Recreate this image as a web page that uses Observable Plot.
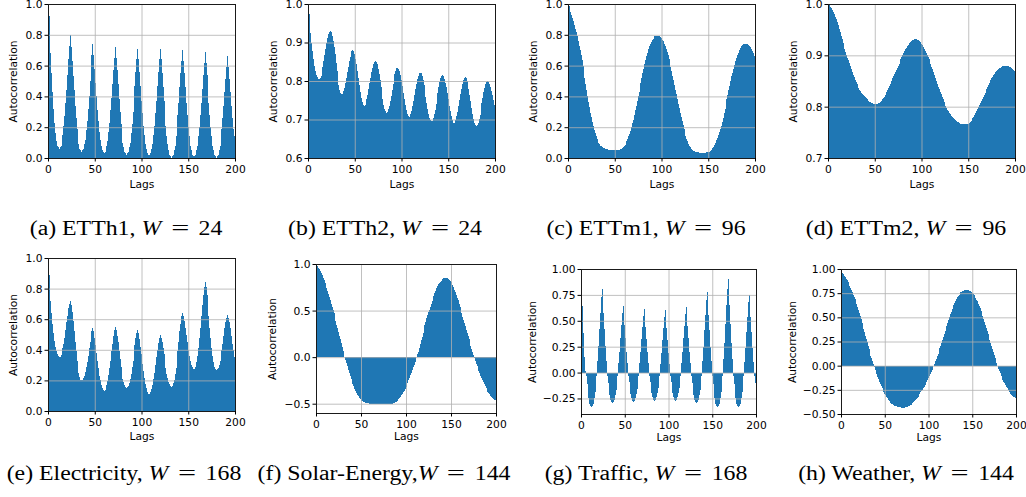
<!DOCTYPE html>
<html><head><meta charset="utf-8">
<script src="https://cdn.jsdelivr.net/npm/d3@7"></script>
<script src="https://cdn.jsdelivr.net/npm/@observablehq/plot@0.6"></script>
<style>
html,body{margin:0;padding:0;background:#fff;}
#fig{position:relative;width:1026px;height:497px;overflow:hidden;background:#fff;}
#fig svg{position:absolute;}
.cap{position:absolute;font-family:"Liberation Serif","Times New Roman",serif;font-size:20px;line-height:20px;white-space:nowrap;color:#000;transform-origin:50% 0;}
.cap i{font-style:italic;}
.cap .eq{display:inline-block;margin:0 0.5em;transform:scaleX(1.35);}
</style></head><body><div id="fig"></div>
<script>
const lags = d3.range(0, 201);

const etth1 = [
1.00,0.92,0.81,0.68,0.55,0.43,0.32,0.23,0.16,0.11,0.08,0.07,0.06,
0.07,0.08,0.11,0.15,0.21,0.27,0.36,0.44,0.54,0.64,0.73,0.80,
0.72,0.63,0.53,0.44,0.34,0.26,0.19,0.13,0.09,0.06,0.05,0.04,
0.05,0.06,0.09,0.12,0.18,0.24,0.32,0.40,0.50,0.59,0.67,0.74,
0.67,0.58,0.49,0.40,0.31,0.24,0.17,0.12,0.08,0.05,0.04,0.03,
0.04,0.05,0.08,0.11,0.17,0.23,0.31,0.39,0.48,0.57,0.65,0.72,
0.65,0.57,0.48,0.38,0.30,0.22,0.16,0.10,0.07,0.04,0.03,0.02,
0.03,0.04,0.07,0.10,0.16,0.22,0.30,0.38,0.47,0.56,0.64,0.71,
0.64,0.56,0.47,0.37,0.29,0.21,0.15,0.09,0.06,0.03,0.02,0.01,
0.02,0.03,0.06,0.09,0.15,0.21,0.29,0.37,0.47,0.56,0.64,0.71,
0.64,0.55,0.46,0.37,0.28,0.21,0.14,0.09,0.05,0.02,0.01,0.00,
0.01,0.02,0.05,0.08,0.14,0.20,0.28,0.36,0.46,0.55,0.63,0.70,
0.63,0.55,0.46,0.36,0.28,0.20,0.14,0.08,0.05,0.02,0.01,0.00,
0.01,0.02,0.05,0.08,0.14,0.20,0.28,0.36,0.45,0.54,0.62,0.69,
0.62,0.54,0.45,0.36,0.28,0.20,0.14,0.08,0.05,0.02,0.01,0.00,
0.01,0.02,0.05,0.08,0.13,0.19,0.26,0.34,0.43,0.51,0.59,0.66,
0.59,0.51,0.43,0.34,0.26,0.19,0.14,0.11];

const etth2 = [
1.000,0.975,0.950,0.925,0.900,0.877,0.856,0.840,0.826,0.816,0.810,0.806,0.805,
0.807,0.814,0.824,0.836,0.851,0.868,0.884,0.899,0.911,0.921,0.927,0.930,
0.927,0.918,0.905,0.889,0.869,0.848,0.826,0.806,0.790,0.777,0.768,0.765,
0.767,0.773,0.782,0.794,0.808,0.823,0.837,0.851,0.863,0.872,0.878,0.880,
0.877,0.870,0.858,0.844,0.826,0.808,0.789,0.771,0.757,0.745,0.738,0.735,
0.737,0.743,0.753,0.764,0.779,0.794,0.809,0.823,0.834,0.844,0.850,0.852,
0.849,0.843,0.832,0.818,0.802,0.785,0.768,0.752,0.738,0.727,0.721,0.718,
0.720,0.726,0.736,0.747,0.762,0.777,0.792,0.806,0.817,0.827,0.833,0.835,
0.832,0.826,0.815,0.803,0.787,0.770,0.753,0.738,0.725,0.714,0.708,0.705,
0.707,0.713,0.723,0.734,0.749,0.764,0.779,0.793,0.804,0.814,0.820,0.822,
0.820,0.813,0.803,0.790,0.775,0.759,0.742,0.727,0.714,0.704,0.698,0.695,
0.697,0.703,0.713,0.725,0.740,0.755,0.770,0.785,0.797,0.807,0.813,0.815,
0.813,0.806,0.796,0.784,0.769,0.753,0.736,0.721,0.709,0.699,0.692,0.690,
0.692,0.698,0.708,0.720,0.735,0.750,0.765,0.780,0.792,0.802,0.808,0.810,
0.808,0.801,0.791,0.778,0.763,0.747,0.730,0.715,0.702,0.692,0.686,0.683,
0.685,0.691,0.701,0.712,0.727,0.742,0.757,0.771,0.782,0.792,0.798,0.800,
0.798,0.792,0.784,0.775,0.763,0.750,0.737,0.725];

const ettm1 = [
1.000,0.985,0.970,0.950,0.930,0.910,0.890,0.865,0.840,0.815,
0.790,0.760,0.730,0.700,0.670,0.635,0.600,0.560,0.520,0.480,
0.440,0.400,0.365,0.330,0.295,0.265,0.235,0.210,0.185,0.165,
0.145,0.125,0.110,0.100,0.090,0.080,0.075,0.070,0.065,0.062,
0.060,0.058,0.056,0.055,0.054,0.053,0.052,0.052,0.051,0.051,
0.050,0.050,0.050,0.051,0.052,0.054,0.057,0.060,0.065,0.070,
0.078,0.087,0.097,0.110,0.125,0.140,0.158,0.178,0.200,0.225,
0.250,0.280,0.310,0.340,0.370,0.400,0.430,0.460,0.490,0.520,
0.550,0.580,0.610,0.635,0.660,0.685,0.705,0.725,0.740,0.755,
0.765,0.775,0.783,0.789,0.793,0.795,0.795,0.794,0.790,0.784,
0.778,0.769,0.757,0.743,0.727,0.709,0.689,0.667,0.643,0.618,
0.591,0.563,0.534,0.504,0.474,0.444,0.413,0.382,0.352,0.322,
0.293,0.265,0.238,0.212,0.188,0.166,0.145,0.126,0.109,0.094,
0.081,0.070,0.061,0.054,0.048,0.044,0.041,0.039,0.037,0.036,
0.035,0.034,0.034,0.034,0.034,0.034,0.035,0.035,0.036,0.038,
0.040,0.042,0.045,0.050,0.056,0.064,0.074,0.086,0.100,0.115,
0.130,0.148,0.167,0.188,0.210,0.235,0.260,0.290,0.320,0.350,
0.380,0.410,0.440,0.470,0.500,0.530,0.555,0.580,0.605,0.628,
0.650,0.668,0.685,0.700,0.712,0.722,0.730,0.736,0.740,0.742,
0.743,0.742,0.739,0.734,0.727,0.718,0.707,0.694,0.680,0.665,
0.650];

const ettm2 = [
1.000,0.999,0.997,0.995,0.992,0.989,0.985,0.980,0.975,0.970,
0.965,0.959,0.952,0.945,0.938,0.931,0.924,0.918,0.912,0.906,
0.900,0.895,0.890,0.885,0.879,0.873,0.867,0.862,0.857,0.852,
0.848,0.844,0.840,0.836,0.833,0.830,0.827,0.824,0.822,0.820,
0.818,0.816,0.814,0.812,0.810,0.809,0.808,0.807,0.806,0.805,
0.805,0.805,0.805,0.806,0.807,0.808,0.810,0.812,0.814,0.816,
0.819,0.822,0.825,0.829,0.833,0.837,0.841,0.845,0.850,0.855,
0.860,0.864,0.868,0.872,0.876,0.880,0.884,0.888,0.892,0.896,
0.900,0.904,0.908,0.912,0.915,0.918,0.921,0.924,0.926,0.928,
0.929,0.930,0.931,0.931,0.931,0.931,0.930,0.929,0.928,0.926,
0.923,0.920,0.917,0.913,0.909,0.905,0.901,0.897,0.893,0.888,
0.883,0.878,0.873,0.867,0.861,0.855,0.850,0.844,0.839,0.834,
0.829,0.824,0.819,0.814,0.810,0.806,0.802,0.798,0.794,0.791,
0.788,0.785,0.782,0.780,0.778,0.776,0.774,0.772,0.771,0.770,
0.769,0.768,0.767,0.767,0.766,0.766,0.766,0.766,0.766,0.767,
0.767,0.768,0.770,0.772,0.774,0.777,0.780,0.783,0.787,0.791,
0.795,0.799,0.803,0.807,0.811,0.815,0.819,0.823,0.827,0.831,
0.835,0.839,0.843,0.847,0.851,0.855,0.858,0.861,0.864,0.867,
0.869,0.871,0.873,0.875,0.876,0.877,0.878,0.879,0.880,0.880,
0.880,0.880,0.880,0.879,0.878,0.877,0.876,0.874,0.872,0.869,
0.866];

const electricity = [
1.00,0.89,0.80,0.72,0.64,0.57,0.51,0.46,0.42,0.39,0.37,0.36,0.35,
0.354,0.365,0.383,0.41,0.44,0.48,0.53,0.58,0.62,0.67,0.70,0.72,
0.69,0.65,0.585,0.52,0.45,0.39,0.33,0.28,0.25,0.22,0.205,0.20,
0.203,0.214,0.23,0.254,0.285,0.32,0.36,0.41,0.45,0.49,0.52,0.54,
0.52,0.48,0.43,0.38,0.33,0.28,0.23,0.20,0.17,0.15,0.134,0.13,
0.134,0.147,0.168,0.197,0.235,0.28,0.33,0.39,0.44,0.49,0.53,0.55,
0.53,0.49,0.45,0.39,0.34,0.29,0.25,0.21,0.19,0.17,0.154,0.15,
0.154,0.165,0.184,0.21,0.245,0.29,0.33,0.38,0.43,0.48,0.51,0.53,
0.51,0.47,0.42,0.37,0.31,0.26,0.215,0.177,0.148,0.127,0.114,0.11,
0.114,0.126,0.145,0.172,0.21,0.25,0.30,0.35,0.40,0.445,0.48,0.50,
0.48,0.45,0.41,0.37,0.32,0.28,0.245,0.214,0.19,0.174,0.163,0.16,
0.165,0.18,0.20,0.24,0.28,0.33,0.39,0.45,0.52,0.57,0.62,0.64,
0.62,0.59,0.54,0.50,0.45,0.40,0.36,0.33,0.30,0.285,0.274,0.27,
0.276,0.29,0.32,0.36,0.41,0.475,0.54,0.62,0.69,0.76,0.81,0.84,
0.81,0.76,0.69,0.62,0.54,0.475,0.41,0.36,0.32,0.29,0.276,0.27,
0.274,0.284,0.30,0.33,0.36,0.40,0.44,0.49,0.54,0.58,0.61,0.63,
0.61,0.58,0.54,0.49,0.44,0.40,0.35,0.30];

const solar = [
1.000,0.990,0.975,0.960,0.945,0.925,0.905,0.880,0.855,0.830,
0.800,0.770,0.740,0.710,0.680,0.645,0.610,0.575,0.540,0.505,
0.470,0.430,0.390,0.350,0.310,0.270,0.230,0.190,0.150,0.110,
0.070,0.035,0.005,-0.030,-0.065,-0.100,-0.135,-0.170,-0.200,-0.230,
-0.260,-0.290,-0.315,-0.340,-0.365,-0.385,-0.405,-0.420,-0.435,-0.448,
-0.460,-0.468,-0.475,-0.481,-0.486,-0.490,-0.493,-0.495,-0.497,-0.498,
-0.499,-0.500,-0.500,-0.501,-0.501,-0.501,-0.502,-0.502,-0.502,-0.502,
-0.502,-0.502,-0.502,-0.502,-0.501,-0.501,-0.501,-0.500,-0.500,-0.500,
-0.500,-0.500,-0.499,-0.499,-0.499,-0.498,-0.495,-0.490,-0.485,-0.477,
-0.468,-0.458,-0.448,-0.437,-0.424,-0.410,-0.395,-0.378,-0.360,-0.340,
-0.320,-0.300,-0.275,-0.250,-0.220,-0.195,-0.170,-0.140,-0.110,-0.080,
-0.050,-0.025,0.000,0.030,0.060,0.100,0.140,0.180,0.220,0.260,
0.300,0.340,0.380,0.420,0.450,0.480,0.510,0.540,0.570,0.600,
0.630,0.660,0.690,0.715,0.740,0.760,0.780,0.795,0.810,0.820,
0.830,0.838,0.845,0.849,0.850,0.849,0.845,0.838,0.830,0.820,
0.805,0.790,0.770,0.750,0.725,0.700,0.670,0.640,0.610,0.575,
0.540,0.505,0.470,0.435,0.400,0.365,0.330,0.295,0.260,0.225,
0.190,0.155,0.120,0.085,0.050,0.020,-0.010,-0.040,-0.070,-0.100,
-0.125,-0.150,-0.175,-0.200,-0.225,-0.250,-0.270,-0.290,-0.310,-0.330,
-0.350,-0.370,-0.385,-0.400,-0.415,-0.430,-0.440,-0.450,-0.460,-0.465,
-0.470];

const traffic = [
1.00,0.88,0.64,0.38,0.15,0.02,
-0.03,-0.11,-0.19,-0.25,-0.30,-0.32,-0.33,-0.32,-0.30,-0.25,-0.19,-0.11,-0.03,
0.11,0.26,0.42,0.58,0.73,0.81,0.73,0.58,0.42,0.26,0.11,
-0.03,-0.10,-0.17,-0.22,-0.26,-0.28,-0.29,-0.28,-0.26,-0.22,-0.17,-0.10,-0.03,
0.09,0.20,0.33,0.46,0.58,0.64,0.58,0.46,0.33,0.20,0.09,
-0.03,-0.09,-0.16,-0.21,-0.25,-0.27,-0.28,-0.27,-0.25,-0.21,-0.16,-0.09,-0.03,
0.09,0.20,0.32,0.44,0.55,0.61,0.55,0.44,0.32,0.20,0.09,
-0.03,-0.09,-0.15,-0.20,-0.24,-0.26,-0.27,-0.26,-0.24,-0.20,-0.15,-0.09,-0.03,
0.08,0.19,0.31,0.43,0.54,0.60,0.54,0.43,0.31,0.19,0.08,
-0.03,-0.09,-0.15,-0.20,-0.24,-0.26,-0.27,-0.26,-0.24,-0.20,-0.15,-0.09,-0.03,
0.09,0.20,0.33,0.45,0.57,0.63,0.57,0.45,0.33,0.20,0.09,
-0.03,-0.10,-0.17,-0.22,-0.26,-0.28,-0.29,-0.28,-0.26,-0.22,-0.17,-0.10,-0.03,
0.11,0.25,0.41,0.56,0.70,0.78,0.70,0.56,0.41,0.25,0.11,
-0.03,-0.11,-0.19,-0.25,-0.30,-0.32,-0.33,-0.32,-0.30,-0.25,-0.19,-0.11,-0.03,
0.13,0.29,0.47,0.65,0.81,0.90,0.81,0.65,0.47,0.29,0.13,
-0.03,-0.11,-0.19,-0.25,-0.30,-0.32,-0.33,-0.32,-0.30,-0.25,-0.19,-0.11,-0.03,
0.10,0.24,0.39,0.54,0.68,0.75,0.68,0.54,0.39,0.24,0.10,
-0.03,-0.10,-0.18];

const weather = [
1.000,0.975,0.960,0.945,0.930,0.915,0.900,0.885,0.865,0.845,
0.825,0.805,0.785,0.760,0.735,0.710,0.685,0.660,0.635,0.605,
0.575,0.545,0.510,0.480,0.445,0.415,0.380,0.345,0.310,0.275,
0.240,0.205,0.170,0.135,0.105,0.075,0.045,0.015,-0.010,-0.040,
-0.065,-0.090,-0.115,-0.140,-0.165,-0.190,-0.210,-0.230,-0.250,-0.270,
-0.290,-0.305,-0.320,-0.335,-0.350,-0.362,-0.373,-0.383,-0.392,-0.400,
-0.407,-0.413,-0.418,-0.422,-0.425,-0.428,-0.430,-0.431,-0.432,-0.433,
-0.433,-0.433,-0.433,-0.432,-0.431,-0.429,-0.426,-0.422,-0.417,-0.411,
-0.404,-0.396,-0.387,-0.377,-0.366,-0.356,-0.345,-0.333,-0.320,-0.306,
-0.292,-0.277,-0.262,-0.247,-0.232,-0.216,-0.200,-0.183,-0.165,-0.147,
-0.128,-0.108,-0.088,-0.067,-0.046,-0.024,-0.002,0.020,0.045,0.070,
0.096,0.122,0.150,0.178,0.207,0.236,0.265,0.295,0.325,0.355,
0.385,0.415,0.445,0.475,0.503,0.530,0.557,0.583,0.607,0.630,
0.652,0.672,0.690,0.707,0.722,0.736,0.748,0.758,0.766,0.772,
0.777,0.779,0.781,0.782,0.782,0.781,0.779,0.775,0.770,0.763,
0.754,0.744,0.732,0.718,0.702,0.684,0.664,0.643,0.620,0.596,
0.570,0.543,0.515,0.486,0.456,0.425,0.394,0.362,0.330,0.298,
0.266,0.234,0.202,0.171,0.140,0.110,0.080,0.051,0.023,-0.004,
-0.030,-0.055,-0.079,-0.102,-0.124,-0.145,-0.165,-0.184,-0.202,-0.219,
-0.235,-0.250,-0.264,-0.277,-0.289,-0.300,-0.310,-0.319,-0.327,-0.334,
-0.340];

const xTicks = [0, 50, 100, 150, 200];
const captionLabels = ["(a) ETTh1, ", "(b) ETTh2, ", "(c) ETTm1, ", "(d) ETTm2, ",
  "(e) Electricity, ", "(f) Solar-Energy,", "(g) Traffic, ", "(h) Weather, "];
const windowSizes = [24, 24, 96, 96, 168, 144, 168, 144];

// layout (pixel frame of each axes), kept apart from the data
const panels = [
  {values: etth1, frame: [48, 235, 4, 158], domain: [0, 1], ticks: [0, 0.2, 0.4, 0.6, 0.8, 1], fmt: ".1f", labX: 13, lagsDy: 29, cap: [126, 235]},
  {values: etth2, frame: [308, 495, 4, 158], domain: [0.6, 1], ticks: [0.6, 0.7, 0.8, 0.9, 1], fmt: ".1f", labX: 273, lagsDy: 29, cap: [385, 235]},
  {values: ettm1, frame: [568, 755, 4, 158], domain: [0, 1], ticks: [0, 0.2, 0.4, 0.6, 0.8, 1], fmt: ".1f", labX: 533, lagsDy: 29, cap: [646, 235]},
  {values: ettm2, frame: [828, 1015, 4, 158], domain: [0.7, 1], ticks: [0.7, 0.8, 0.9, 1], fmt: ".1f", labX: 793, lagsDy: 29, cap: [906, 235]},
  {values: electricity, frame: [48, 235, 258, 411], domain: [0, 1], ticks: [0, 0.2, 0.4, 0.6, 0.8, 1], fmt: ".1f", labX: 13, lagsDy: 28, cap: [124, 480]},
  {values: solar, frame: [316, 496, 264, 413], domain: [-0.6, 1], ticks: [-0.5, 0, 0.5, 1], fmt: ".1f", labX: 272, lagsDy: 26, cap: [384, 480]},
  {values: traffic, frame: [581, 756, 269, 414], domain: [-0.4, 1], ticks: [-0.25, 0, 0.25, 0.5, 0.75, 1], fmt: ".2f", labX: 532, lagsDy: 26, cap: [646, 480]},
  {values: weather, frame: [841, 1016, 269, 414], domain: [-0.5, 1], ticks: [-0.5, -0.25, 0, 0.25, 0.5, 0.75, 1], fmt: ".2f", labX: 792, lagsDy: 26, cap: [906, 480]}
];

const fig = document.getElementById("fig");
const ML = 62, MR = 12, MT = 8, MB = 44;
const gridStyle = {stroke: "#b0b0b0", strokeOpacity: 1, strokeWidth: 0.8};

panels.forEach((p, k) => {
  const [x0, x1, y0, y1] = p.frame;
  const vals = p.values;
  const svg = Plot.plot({
    width: x1 - x0 + ML + MR,
    height: y1 - y0 + MT + MB,
    marginLeft: ML, marginRight: MR, marginTop: MT, marginBottom: MB,
    style: {fontFamily: "'DejaVu Sans', sans-serif", fontSize: "10.7px", color: "#000", background: "transparent", overflow: "visible"},
    x: {domain: [0, 200]},
    y: {domain: p.domain},
    marks: [
      Plot.rect(lags, {x1: i => i - 0.5, x2: i => i + 0.62, y1: () => 0, y2: i => vals[i], fill: "#1f77b4", clip: true, shapeRendering: "crispEdges"}),
      Plot.gridX(xTicks, gridStyle),
      Plot.gridY(p.ticks, gridStyle),
      Plot.frame({stroke: "#1a1a1a", strokeWidth: 1}),
      Plot.axisY(p.ticks, {tickFormat: d3.format(p.fmt), tickSize: 3.5, tickPadding: 2.5, label: null, fontSize: 10.7}),
      Plot.axisX(xTicks, {tickFormat: d => String(d), tickSize: 3.5, tickPadding: 3.5, label: null, fontSize: 10.7}),
      Plot.text(["Autocorrelation"], {frameAnchor: "left", dx: -(x0 - p.labX), rotate: -90, textAnchor: "middle", fontSize: 10.7, fill: "#000"}),
      Plot.text(["Lags"], {frameAnchor: "bottom", dy: p.lagsDy, fontSize: 10.7, fill: "#000"})
    ]
  });
  svg.style.left = (x0 - ML) + "px";
  svg.style.top = (y0 - MT) + "px";
  fig.appendChild(svg);

  const cap = document.createElement("div");
  cap.className = "cap";
  cap.innerHTML = captionLabels[k] + "<i>W</i><span class='eq'>=</span>" + windowSizes[k];
  cap.style.left = p.cap[0] + "px";
  cap.style.top = (p.cap[1] - 16.8) + "px";
  cap.style.transform = "translateX(-50%) scaleX(1.19)";
  fig.appendChild(cap);
});
</script>
</body></html>
